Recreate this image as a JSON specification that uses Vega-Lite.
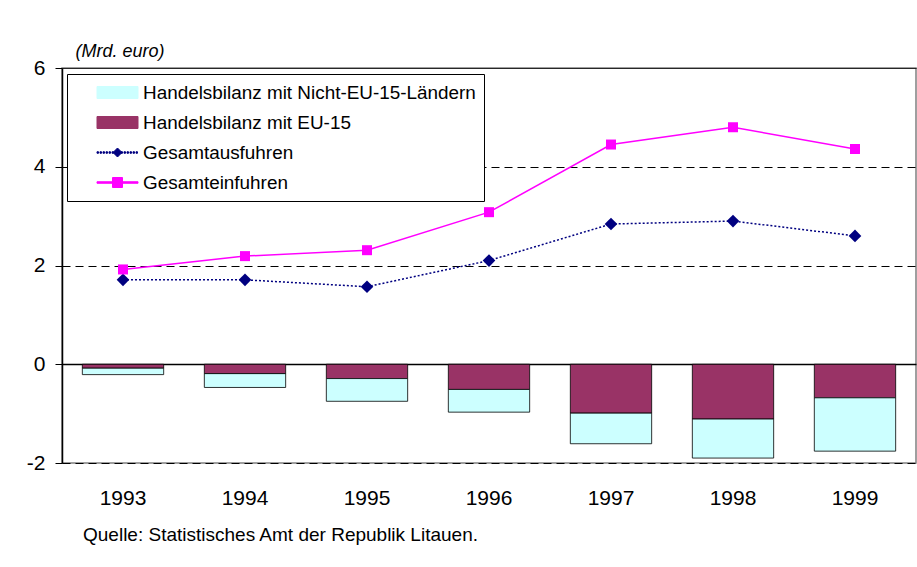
{
  "$schema": "https://vega.github.io/schema/vega-lite/v6.json",
  "autosize": "none",
  "width": 854,
  "height": 395,
  "padding": {"left": 62, "top": 68, "right": 1, "bottom": 104},
  "background": "white",
  "config": {
    "font": "Liberation Sans",
    "view": {"stroke": "#808080", "strokeWidth": 1.5}
  },
  "title": {
    "text": "Quelle: Statistisches Amt der Republik Litauen.",
    "orient": "bottom",
    "anchor": "start",
    "frame": "group",
    "dx": 21,
    "offset": 18,
    "fontSize": 19,
    "fontWeight": "normal",
    "color": "black",
    "font": "Liberation Sans"
  },
  "data": {
    "values": [
      {"year": "1993", "series": "Handelsbilanz mit EU-15", "value": -0.08},
      {"year": "1993", "series": "Handelsbilanz mit Nicht-EU-15-Ländern", "value": -0.13},
      {"year": "1994", "series": "Handelsbilanz mit EU-15", "value": -0.19},
      {"year": "1994", "series": "Handelsbilanz mit Nicht-EU-15-Ländern", "value": -0.28},
      {"year": "1995", "series": "Handelsbilanz mit EU-15", "value": -0.29},
      {"year": "1995", "series": "Handelsbilanz mit Nicht-EU-15-Ländern", "value": -0.46},
      {"year": "1996", "series": "Handelsbilanz mit EU-15", "value": -0.51},
      {"year": "1996", "series": "Handelsbilanz mit Nicht-EU-15-Ländern", "value": -0.46},
      {"year": "1997", "series": "Handelsbilanz mit EU-15", "value": -0.99},
      {"year": "1997", "series": "Handelsbilanz mit Nicht-EU-15-Ländern", "value": -0.62},
      {"year": "1998", "series": "Handelsbilanz mit EU-15", "value": -1.11},
      {"year": "1998", "series": "Handelsbilanz mit Nicht-EU-15-Ländern", "value": -0.79},
      {"year": "1999", "series": "Handelsbilanz mit EU-15", "value": -0.68},
      {"year": "1999", "series": "Handelsbilanz mit Nicht-EU-15-Ländern", "value": -1.08},
      {"year": "1993", "series": "Gesamtausfuhren", "value": 1.71},
      {"year": "1994", "series": "Gesamtausfuhren", "value": 1.71},
      {"year": "1995", "series": "Gesamtausfuhren", "value": 1.57},
      {"year": "1996", "series": "Gesamtausfuhren", "value": 2.10},
      {"year": "1997", "series": "Gesamtausfuhren", "value": 2.84},
      {"year": "1998", "series": "Gesamtausfuhren", "value": 2.90},
      {"year": "1999", "series": "Gesamtausfuhren", "value": 2.60},
      {"year": "1993", "series": "Gesamteinfuhren", "value": 1.92},
      {"year": "1994", "series": "Gesamteinfuhren", "value": 2.19},
      {"year": "1995", "series": "Gesamteinfuhren", "value": 2.31},
      {"year": "1996", "series": "Gesamteinfuhren", "value": 3.08},
      {"year": "1997", "series": "Gesamteinfuhren", "value": 4.45},
      {"year": "1998", "series": "Gesamteinfuhren", "value": 4.80},
      {"year": "1999", "series": "Gesamteinfuhren", "value": 4.36}
    ]
  },
  "encoding": {
    "x": {
      "field": "year",
      "type": "nominal",
      "scale": {"paddingInner": 0.3333, "paddingOuter": 0.1667},
      "axis": {
        "title": null,
        "labelAngle": 0,
        "ticks": false,
        "domain": false,
        "labelFontSize": 21,
        "labelColor": "black",
        "labelPadding": 24
      }
    }
  },
  "layer": [
    {
      "mark": {"type": "bar", "stroke": "black", "strokeWidth": 1, "strokeOpacity": 0.8},
      "transform": [{"filter": "indexof(['Handelsbilanz mit EU-15','Handelsbilanz mit Nicht-EU-15-Ländern'], datum.series) >= 0"}],
      "encoding": {
        "y": {
          "field": "value",
          "type": "quantitative",
          "stack": "zero",
          "scale": {"domain": [-2, 6], "nice": false, "zero": false},
          "axis": {
            "title": "(Mrd. euro)",
            "titleAngle": 0,
            "titleX": 13,
            "titleY": -17,
            "titleAlign": "left",
            "titleBaseline": "middle",
            "titleFontSize": 18,
            "titleFontStyle": "italic",
            "titleFontWeight": "normal",
            "titleColor": "black",
            "values": [-2, 0, 2, 4, 6],
            "labelExpr": "toString(datum.value)",
            "labelFontSize": 21,
            "labelColor": "black",
            "labelPadding": 10,
            "tickSize": 7,
            "tickColor": "black",
            "domainColor": "black",
            "domainWidth": 1.5,
            "grid": true,
            "gridColor": "black",
            "gridDash": {"condition": {"test": "datum.value == 0 || datum.value == 6", "value": [1, 0]}, "value": [8, 5]},
            "gridWidth": {"condition": {"test": "datum.value == 0", "value": 1.5}, "value": 1}
          }
        },
        "color": {
          "field": "series",
          "type": "nominal",
          "scale": {
            "domain": ["Handelsbilanz mit Nicht-EU-15-Ländern", "Handelsbilanz mit EU-15", "Gesamtausfuhren", "Gesamteinfuhren"],
            "range": ["#CCFFFF", "#993366", "#000080", "#FF00FF"]
          },
          "legend": {
            "title": null,
            "orient": "none",
            "legendX": 5,
            "legendY": 6,
            "direction": "vertical",
            "fillColor": "white",
            "strokeColor": "black",
            "padding": 8,
            "symbolOffset": 32,
            "symbolSize": 400,
            "symbolStrokeWidth": 1,
            "labelFontSize": 18.9,
            "labelColor": "black",
            "labelOffset": 15,
            "labelLimit": 600,
            "rowPadding": 9
          }
        },
        "order": {"field": "series", "sort": "ascending"}
      }
    },
    {
      "transform": [{"filter": "datum.series == 'Gesamtausfuhren'"}],
      "layer": [
        {
          "mark": {"type": "line", "strokeWidth": 1.5, "strokeDash": [2, 2]},
          "encoding": {
            "y": {"field": "value", "type": "quantitative"},
            "color": {"field": "series", "type": "nominal", "legend": null}
          }
        },
        {
          "mark": {"type": "point", "shape": "diamond", "filled": true, "size": 160, "opacity": 1},
          "encoding": {
            "y": {"field": "value", "type": "quantitative"},
            "color": {"field": "series", "type": "nominal", "legend": null}
          }
        }
      ]
    },
    {
      "transform": [{"filter": "datum.series == 'Gesamteinfuhren'"}],
      "layer": [
        {
          "mark": {"type": "line", "strokeWidth": 1.5},
          "encoding": {
            "y": {"field": "value", "type": "quantitative"},
            "color": {"field": "series", "type": "nominal", "legend": null}
          }
        },
        {
          "mark": {"type": "point", "shape": "square", "filled": true, "size": 100, "opacity": 1},
          "encoding": {
            "y": {"field": "value", "type": "quantitative"},
            "color": {"field": "series", "type": "nominal", "legend": null}
          }
        }
      ]
    },
    {
      "transform": [{"filter": "false"}],
      "mark": {"type": "point", "filled": true, "opacity": 1},
      "encoding": {
        "y": {"field": "value", "type": "quantitative"},
        "color": {"field": "series", "type": "nominal", "legend": null},
        "shape": {
          "field": "series",
          "type": "nominal",
          "scale": {
            "domain": ["Handelsbilanz mit Nicht-EU-15-Ländern", "Handelsbilanz mit EU-15", "Gesamtausfuhren", "Gesamteinfuhren"],
            "range": [
              "M-2.05,-0.6H2.05V0.6H-2.05Z",
              "M-2.05,-0.6H2.05V0.6H-2.05Z",
              "M-2.05,-0.075h0.15v0.15h-0.15Z M-1.75,-0.075h0.15v0.15h-0.15Z M-1.45,-0.075h0.15v0.15h-0.15Z M-1.15,-0.075h0.15v0.15h-0.15Z M-0.85,-0.075h0.15v0.15h-0.15Z M-0.55,-0.075h0.15v0.15h-0.15Z M0.35,-0.075h0.15v0.15h-0.15Z M0.65,-0.075h0.15v0.15h-0.15Z M0.95,-0.075h0.15v0.15h-0.15Z M1.25,-0.075h0.15v0.15h-0.15Z M1.55,-0.075h0.15v0.15h-0.15Z M1.85,-0.075h0.15v0.15h-0.15Z M0,-0.45L0.45,0L0,0.45L-0.45,0Z",
              "M-2.05,-0.075H2.05V0.075H-2.05Z M-0.5,-0.5H0.5V0.5H-0.5Z"
            ]
          }
        },
        "stroke": {
          "field": "series",
          "type": "nominal",
          "scale": {
            "domain": ["Handelsbilanz mit Nicht-EU-15-Ländern", "Handelsbilanz mit EU-15", "Gesamtausfuhren", "Gesamteinfuhren"],
            "range": ["#333333", "#333333", "transparent", "transparent"]
          }
        }
      }
    }
  ]
}
